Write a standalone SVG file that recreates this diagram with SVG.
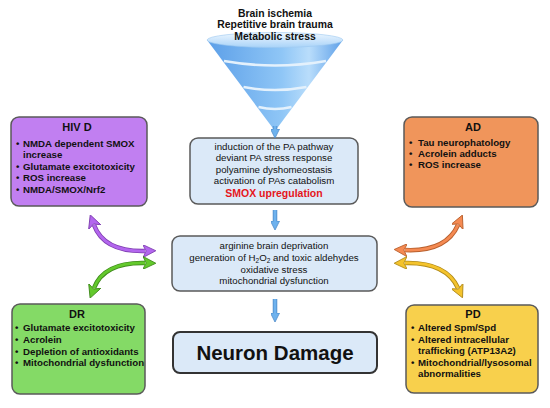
<svg xmlns="http://www.w3.org/2000/svg" width="550" height="408" viewBox="0 0 550 408">
<defs>
<style>
.t{font-family:"Liberation Sans",Arial,sans-serif;fill:#111}
.b{font-weight:bold}
.c{text-anchor:middle}
.bx{stroke:#5a5a5a;stroke-width:1.5}
.mid{fill:#dbe9f8;stroke:#5a5a5a;stroke-width:1.5}
</style>
<linearGradient id="cone" x1="0" y1="0" x2="1" y2="0">
<stop offset="0" stop-color="#5c9fe8"/>
<stop offset="0.55" stop-color="#8fc6f6"/>
<stop offset="0.75" stop-color="#b9ddfb"/>
<stop offset="1" stop-color="#5d9fe8"/>
</linearGradient>
<linearGradient id="top" x1="0" y1="0" x2="0" y2="1">
<stop offset="0" stop-color="#eef7ff"/>
<stop offset="1" stop-color="#a9d3f8"/>
</linearGradient>
<marker id="mb" viewBox="0 0 10 10" refX="1" refY="5" markerWidth="9" markerHeight="9" markerUnits="userSpaceOnUse" orient="auto">
<path d="M0,0 L10,5 L0,10 Z" fill="#6eb2ee" stroke="#4a86c4" stroke-width="0.8"/>
</marker>
<marker id="mp" viewBox="0 0 12 12" refX="2" refY="6" markerWidth="13" markerHeight="13" markerUnits="userSpaceOnUse" orient="auto-start-reverse">
<path d="M0,0 L12,6 L0,12 L3,6 Z" fill="#b366ee" stroke="#7f3fb0" stroke-width="0.8"/>
</marker>
<marker id="mg" viewBox="0 0 12 12" refX="2" refY="6" markerWidth="13" markerHeight="13" markerUnits="userSpaceOnUse" orient="auto-start-reverse">
<path d="M0,0 L12,6 L0,12 L3,6 Z" fill="#63c92c" stroke="#3f8a1c" stroke-width="0.8"/>
</marker>
<marker id="mo" viewBox="0 0 12 12" refX="2" refY="6" markerWidth="13" markerHeight="13" markerUnits="userSpaceOnUse" orient="auto-start-reverse">
<path d="M0,0 L12,6 L0,12 L3,6 Z" fill="#f58a52" stroke="#b8602e" stroke-width="0.8"/>
</marker>
<marker id="my" viewBox="0 0 12 12" refX="2" refY="6" markerWidth="13" markerHeight="13" markerUnits="userSpaceOnUse" orient="auto-start-reverse">
<path d="M0,0 L12,6 L0,12 L3,6 Z" fill="#f4c32c" stroke="#b08a1a" stroke-width="0.8"/>
</marker>
</defs>
<rect width="550" height="408" fill="#ffffff"/>

<g id="funnel">
<path d="M207,40 L275,131 L343,40 Z" fill="url(#cone)"/>
<ellipse cx="275" cy="40" rx="68" ry="7.5" fill="url(#top)" stroke="#9cc8f0" stroke-width="0.6"/>
<path d="M224,61 Q275,70 326,61" fill="none" stroke="#e4f1fc" stroke-width="2.5"/>
<path d="M243.5,87 Q275,93 306.5,87" fill="none" stroke="#e4f1fc" stroke-width="2.5"/>
<path d="M258.5,107 Q275,111 291.5,107" fill="none" stroke="#e4f1fc" stroke-width="2.5"/>
<text class="t b c" x="275" y="16.5" font-size="10.4">Brain ischemia</text>
<text class="t b c" x="275" y="28" font-size="10.4">Repetitive brain trauma</text>
<text class="t b c" x="275" y="39.5" font-size="10.4">Metabolic stress</text>
</g>

<g id="pa">
<rect class="mid" x="190" y="138" width="168" height="66" rx="8"/>
<text class="t c" x="274" y="149.5" font-size="9.7">induction of the PA pathway</text>
<text class="t c" x="274" y="160.5" font-size="9.7">deviant PA stress response</text>
<text class="t c" x="274" y="172.5" font-size="9.7">polyamine dyshomeostasis</text>
<text class="t c" x="274" y="183.5" font-size="9.7">activation of PAs catabolism</text>
<text class="t b c" x="274" y="197" font-size="10.5" style="fill:#e5151c">SMOX upregulation</text>
</g>

<g id="ox">
<rect class="mid" x="172" y="236" width="205" height="55" rx="8"/>
<text class="t c" x="274" y="248.5" font-size="9.7">arginine brain deprivation</text>
<text class="t c" x="274" y="260.5" font-size="9.7">generation of H<tspan font-size="6.5" dy="2.5">2</tspan><tspan dy="-2.5">O</tspan><tspan font-size="6.5" dy="2.5">2</tspan><tspan dy="-2.5"> and toxic aldehydes</tspan></text>
<text class="t c" x="274" y="272.5" font-size="9.7">oxidative stress</text>
<text class="t c" x="274" y="284" font-size="9.7">mitochondrial dysfunction</text>
</g>

<g id="neuron">
<rect x="173" y="332" width="204" height="41" rx="7" fill="#dbe9f8" stroke="#333" stroke-width="2"/>
<text class="t b c" x="275" y="359.5" font-size="20.5">Neuron Damage</text>
</g>

<g id="hivd">
<rect class="bx" x="11" y="117" width="136" height="89" rx="8" fill="#c17ff1"/>
<text class="t b c" x="77" y="131" font-size="11">HIV D</text>
<g class="t b" font-size="9.7">
<text x="16" y="146.5">•</text><text x="23" y="146.5">NMDA dependent SMOX</text>
<text x="23" y="157.5">increase</text>
<text x="16" y="169.5">•</text><text x="23" y="169.5">Glutamate excitotoxicity</text>
<text x="16" y="181">•</text><text x="23" y="181">ROS increase</text>
<text x="16" y="192.5">•</text><text x="23" y="192.5">NMDA/SMOX/Nrf2</text>
</g>
</g>

<g id="ad">
<rect class="bx" x="404" y="117" width="134" height="90" rx="8" fill="#f0955b"/>
<text class="t b c" x="473" y="131" font-size="11">AD</text>
<g class="t b" font-size="9.7">
<text x="409" y="145.5">•</text><text x="418" y="145.5">Tau neurophatology</text>
<text x="409" y="156.5">•</text><text x="418" y="156.5">Acrolein adducts</text>
<text x="409" y="167.5">•</text><text x="418" y="167.5">ROS increase</text>
</g>
</g>

<g id="dr">
<rect class="bx" x="12" y="304" width="133" height="90" rx="8" fill="#84da66"/>
<text class="t b c" x="77" y="318" font-size="11">DR</text>
<g class="t b" font-size="9.7">
<text x="15" y="330.5">•</text><text x="23" y="330.5">Glutamate excitotoxicity</text>
<text x="15" y="342.5">•</text><text x="23" y="342.5">Acrolein</text>
<text x="15" y="354.5">•</text><text x="23" y="354.5">Depletion of antioxidants</text>
<text x="15" y="365.5">•</text><text x="23" y="365.5">Mitochondrial dysfunction</text>
</g>
</g>

<g id="pd">
<rect class="bx" x="406" y="305" width="132" height="88" rx="8" fill="#f8d04c"/>
<text class="t b c" x="473" y="318" font-size="11">PD</text>
<g class="t b" font-size="9.7">
<text x="411" y="330.5">•</text><text x="418" y="330.5">Altered Spm/Spd</text>
<text x="411" y="342.5">•</text><text x="418" y="342.5">Altered intracellular</text>
<text x="418" y="353.5">trafficking (ATP13A2)</text>
<text x="411" y="365.5">•</text><text x="418" y="365.5">Mitochondrial/lysosomal</text>
<text x="418" y="376.5">abnormalities</text>
</g>
</g>

<g id="connectors" fill="none">
<path d="M275,126 L275,130" stroke="#4a86c4" stroke-width="4.5" marker-end="url(#mb)"/>
<path d="M275,126 L275,130.5" stroke="#6eb2ee" stroke-width="3"/>
<path d="M275,210 L275,222" stroke="#4a86c4" stroke-width="4.5" marker-end="url(#mb)"/>
<path d="M275,210 L275,222.5" stroke="#6eb2ee" stroke-width="3"/>
<path d="M275,299 L275,314" stroke="#4a86c4" stroke-width="4.5" marker-end="url(#mb)"/>
<path d="M275,299 L275,314.5" stroke="#6eb2ee" stroke-width="3"/>

<path d="M94,225 Q104,252 145,251" stroke="#7f3fb0" stroke-width="4.5" marker-start="url(#mp)" marker-end="url(#mp)"/>
<path d="M94,225 Q104,252 145,251" stroke="#b366ee" stroke-width="2.8"/>
<path d="M145,263 Q104,262 94,288" stroke="#3f8a1c" stroke-width="4.5" marker-start="url(#mg)" marker-end="url(#mg)"/>
<path d="M145,263 Q104,262 94,288" stroke="#63c92c" stroke-width="2.8"/>
<path d="M458,225 Q446,252 405,250" stroke="#b8602e" stroke-width="4.5" marker-start="url(#mo)" marker-end="url(#mo)"/>
<path d="M458,225 Q446,252 405,250" stroke="#f58a52" stroke-width="2.8"/>
<path d="M405,263 Q446,262 458,288" stroke="#b08a1a" stroke-width="4.5" marker-start="url(#my)" marker-end="url(#my)"/>
<path d="M405,263 Q446,262 458,288" stroke="#f4c32c" stroke-width="2.8"/>
</g>
</svg>
